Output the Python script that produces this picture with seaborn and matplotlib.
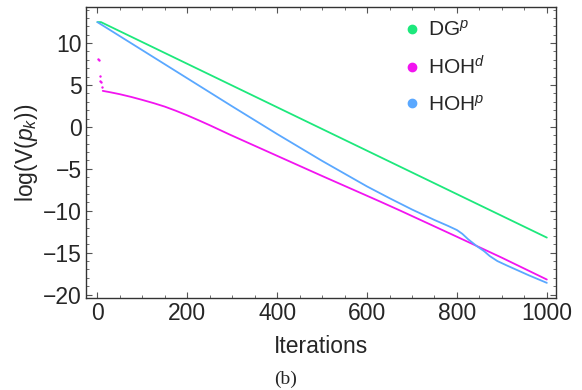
import matplotlib
matplotlib.use("Agg")
import matplotlib.pyplot as plt
from matplotlib.ticker import MultipleLocator
from matplotlib.lines import Line2D
import seaborn as sns
import pandas as pd

# values
dg_iter = [0, 8, 1000]
dg_val = [12.5, 12.5, -13.2]

hohd_dot_iter = [1.5, 4, 5, 6.5, 7.5, 9.5]
hohd_dot_val = [8.1, 8.0, 6.1, 5.5, 5.4, 4.8]
hohd_iter = [12, 30, 50, 75, 100, 125, 150, 175, 200, 225, 250, 296, 400, 500, 629,
             673, 800, 900, 1000]
hohd_val = [4.3, 4.12, 3.9, 3.58, 3.22, 2.84, 2.42, 1.92, 1.38, 0.8, 0.2, -0.95, -3.45,
            -5.85, -8.9, -9.96, -13.1, -15.6, -18.2]

hohp_iter = [0, 100, 200, 300, 400, 500, 600, 650, 700, 750, 780, 800, 812, 825, 845,
             860, 873, 890, 910, 935, 960, 1000]
hohp_val = [12.5, 9.15, 5.8, 2.45, -0.85, -4.05, -7.1, -8.5, -9.85, -11.1, -11.8, -12.3,
            -12.75, -13.4, -14.25, -14.8, -15.4, -16.0, -16.5, -17.1, -17.7, -18.6]

labels = [r"DG$^{p}$", r"HOH$^{d}$", r"HOH$^{p}$"]
colors = ["#1de87c", "#f214f0", "#5aa8ff"]

sns.set_theme(style="ticks")
plt.rcParams["font.family"] = ["Liberation Sans", "DejaVu Sans"]
plt.rcParams["mathtext.fontset"] = "custom"
plt.rcParams["mathtext.rm"] = "Liberation Sans"
plt.rcParams["mathtext.it"] = "Liberation Sans:italic"

fig = plt.figure(figsize=(5.82, 3.9), dpi=100)
ax = fig.add_axes([0.148, 0.236, 0.807, 0.746])

dg = pd.DataFrame({"it": dg_iter, "v": dg_val})
hd = pd.DataFrame({"it": hohd_iter, "v": hohd_val})
hp = pd.DataFrame({"it": hohp_iter, "v": hohp_val})

sns.lineplot(data=dg, x="it", y="v", color=colors[0], lw=1.3, ax=ax)
sns.lineplot(data=hd, x="it", y="v", color=colors[1], lw=1.3, ax=ax)
sns.scatterplot(x=hohd_dot_iter, y=hohd_dot_val, color=colors[1], s=3, linewidth=0, ax=ax)
sns.lineplot(data=hp, x="it", y="v", color=colors[2], lw=1.3, ax=ax)

ax.set_xlim(-25, 1020)
ax.set_ylim(-20.4, 14.3)
ax.xaxis.set_major_locator(MultipleLocator(200))
ax.xaxis.set_minor_locator(MultipleLocator(50))
ax.yaxis.set_major_locator(MultipleLocator(5))
ax.yaxis.set_minor_locator(MultipleLocator(1))
ax.tick_params(which="both", direction="in", top=True, right=True,
               labeltop=False, labelright=False, color="#555555")
ax.tick_params(which="major", length=4, width=0.8, labelsize=16.5, pad=3)
ax.tick_params(which="minor", length=2, width=0.6)
for sp in ax.spines.values():
    sp.set_color("#333333")
    sp.set_linewidth(1.0)

ax.set_xlabel("Iterations", fontsize=16.5, labelpad=7)
ax.set_ylabel(r"log(V($p_k$))", fontsize=16.5, labelpad=2)

handles = [Line2D([], [], marker="o", ls="", color=c, markersize=6) for c in colors]
ax.legend(handles, labels, loc="upper right", bbox_to_anchor=(0.89, 1.02), frameon=False,
          fontsize=15, labelspacing=0.75, handletextpad=0.2, handlelength=1.2)

fig.text(0.49, 0.015, "(b)", ha="center", fontsize=14, family="Liberation Serif")

fig.savefig("out.png", dpi=100)
